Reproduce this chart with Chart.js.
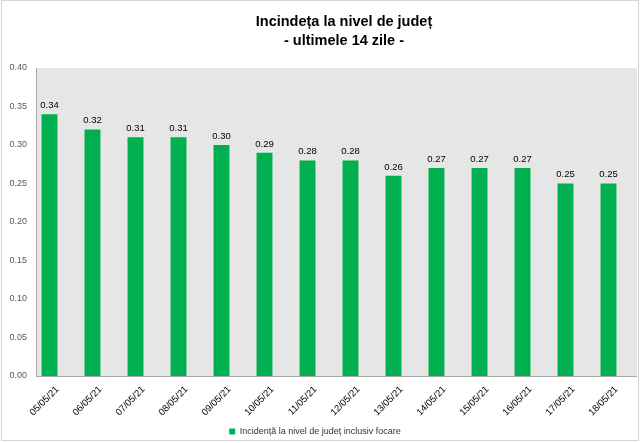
<!DOCTYPE html>
<html>
<head>
<meta charset="utf-8">
<style>
  html, body { margin: 0; padding: 0; background: #fff; }
  #wrap { position: relative; width: 640px; height: 443px; }
</style>
<script src="https://cdn.jsdelivr.net/npm/chart.js@4/dist/chart.umd.min.js"></script>
</head>
<body>
<div id="wrap"><canvas id="incidentaChart" width="640" height="443"></canvas></div>
<script>
const labels = ['05/05/21', '06/05/21', '07/05/21', '08/05/21', '09/05/21', '10/05/21', '11/05/21',
    '12/05/21', '13/05/21', '14/05/21', '15/05/21', '16/05/21', '17/05/21', '18/05/21'];
const incidenta = [0.34, 0.32, 0.31, 0.31, 0.30, 0.29, 0.28, 0.28, 0.26, 0.27, 0.27, 0.27, 0.25, 0.25];
const titleLines = ['Incindeța la nivel de județ', '- ultimele 14 zile -'];
const seriesName = 'Incidență la nivel de județ inclusiv focare';

const FONT = '"Liberation Sans", Arial, sans-serif';
const GREEN = '#00b050';

// gray plot background + outer frame + title
const decorPlugin = {
    id: 'decor',
    beforeDraw(chart) {
        const ctx = chart.ctx;
        const a = chart.chartArea;
        ctx.save();
        ctx.fillStyle = '#fff';
        ctx.fillRect(0, 0, chart.width, chart.height);
        ctx.strokeStyle = '#d4d4d4';
        ctx.lineWidth = 1;
        ctx.strokeRect(1.5, 0.5, chart.width - 3, chart.height - 3);
        // plot area in excel starts a bit right of the first category
        ctx.fillStyle = '#e6e6e6';
        ctx.fillRect(a.left + 8, a.top, a.right - a.left - 1, a.bottom - a.top);
        ctx.strokeStyle = '#a6a6a6';
        ctx.beginPath();
        ctx.moveTo(a.left + 8.5, a.top);
        ctx.lineTo(a.left + 8.5, a.bottom + 0.5);
        ctx.lineTo(a.right + 7, a.bottom + 0.5);
        ctx.stroke();

        ctx.fillStyle = '#000';
        ctx.font = 'bold 14.5px ' + FONT;
        ctx.textAlign = 'center';
        ctx.textBaseline = 'middle';
        ctx.fillText(titleLines[0], 344, 22);
        ctx.fillText(titleLines[1], 344, 41);
        ctx.restore();
    }
};

// value labels above each bar
const valueLabels = {
    id: 'valueLabels',
    afterDatasetsDraw(chart) {
        const ctx = chart.ctx;
        const meta = chart.getDatasetMeta(0);
        ctx.save();
        ctx.fillStyle = '#000';
        ctx.font = '9.5px ' + FONT;
        ctx.textAlign = 'center';
        ctx.textBaseline = 'bottom';
        meta.data.forEach((bar, i) => {
            ctx.fillText(incidenta[i].toFixed(2), bar.x, bar.y - 4);
        });
        ctx.restore();
    }
};

new Chart(document.getElementById('incidentaChart'), {
    type: 'bar',
    data: {
        labels: labels,
        datasets: [{
            label: seriesName,
            data: incidenta,
            backgroundColor: GREEN,
            borderWidth: 0,
            categoryPercentage: 1,
            barPercentage: 0.37
        }]
    },
    options: {
        responsive: false,
        animation: false,
        layout: { padding: { top: 68, right: 10, left: 0, bottom: -3 } },
        plugins: {
            title: { display: false },
            tooltip: { enabled: false },
            legend: {
                position: 'bottom',
                labels: {
                    boxWidth: 6,
                    boxHeight: 6,
                    padding: 4,
                    color: '#333',
                    font: { family: FONT, size: 9 }
                }
            }
        },
        scales: {
            x: {
                grid: { display: false, drawTicks: false },
                border: { display: false },
                ticks: {
                    color: '#000',
                    font: { family: FONT, size: 9.5 },
                    minRotation: 45,
                    maxRotation: 45,
                    padding: 8,
                    labelOffset: 8,
                    autoSkip: false
                },
                afterFit(scale) { scale.height = 47; }
            },
            y: {
                min: 0,
                max: 0.4,
                grid: { display: false, drawTicks: false },
                border: { display: false },
                ticks: {
                    stepSize: 0.05,
                    color: '#595959',
                    font: { family: FONT, size: 9 },
                    padding: 1,
                    callback: (v) => v.toFixed(2)
                },
                afterFit(scale) { scale.width = 28; }
            }
        }
    },
    plugins: [decorPlugin, valueLabels]
});
</script>
</body>
</html>
